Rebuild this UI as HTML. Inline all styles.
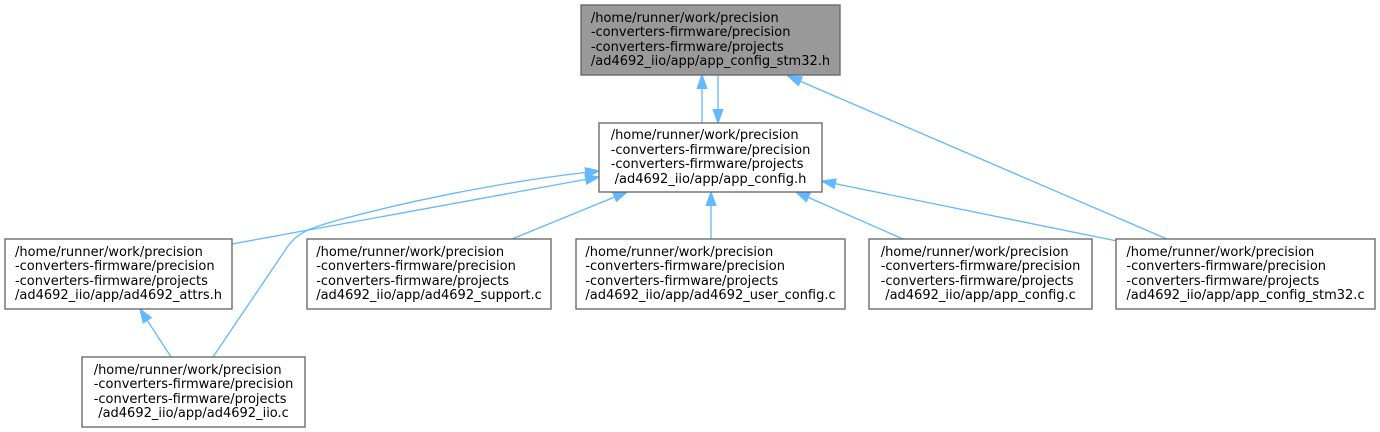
<!DOCTYPE html>
<html>
<head>
<meta charset="utf-8">
<style>
  html, body { margin: 0; padding: 0; background: #ffffff; }
  body { width: 1380px; height: 432px; position: relative; overflow: hidden; }
  svg { position: absolute; left: 0; top: 0; }
  .t {
    position: absolute;
    text-align: center;
    font-family: "DejaVu Sans", "Liberation Sans", sans-serif;
    font-size: 13px;
    line-height: 14.6px;
    color: #000;
    white-space: nowrap;
  }
  .t > span { display: inline-block; text-align: left; }
  .t > span > div.c { text-align: center; }
</style>
</head>
<body>
<svg width="1380" height="432" viewBox="0 0 1380 432" xmlns="http://www.w3.org/2000/svg">
  <g fill="none" stroke="#63b8ff" stroke-width="1.33">
    <!-- E1 app_config.h -> stm32.h (up) -->
    <line x1="702" y1="123" x2="702" y2="88.3"/>
    <!-- E2 stm32.h -> app_config.h (down) -->
    <line x1="718" y1="75" x2="718" y2="109.7"/>
    <!-- E3 stm32.c -> stm32.h -->
    <line x1="1167" y1="239" x2="800.2" y2="81.25"/>
    <!-- E4 attrs.h -> app_config.h -->
    <line x1="232" y1="244" x2="585.9" y2="179.4"/>
    <!-- E5 iio.c -> app_config.h (curve) -->
    <path d="M213,357 L288,246 C297,233 310,228 335,221 C400,203 500,182 585.8,172.5"/>
    <!-- E6 support.c -> app_config.h -->
    <line x1="512" y1="239" x2="614.7" y2="197"/>
    <!-- E7 user_config.c -> app_config.h -->
    <line x1="711" y1="239" x2="711" y2="205.3"/>
    <!-- E8 app_config.c -> app_config.h -->
    <line x1="903" y1="239" x2="808.2" y2="197.4"/>
    <!-- E9 stm32.c -> app_config.h -->
    <line x1="1117" y1="241" x2="835" y2="183.65"/>
    <!-- E10 iio.c -> attrs.h -->
    <line x1="171" y1="357" x2="147.2" y2="320.2"/>
  </g>
  <g fill="#63b8ff" stroke="#63b8ff" stroke-width="1.33">
    <polygon points="702,75 697.3,88.3 706.7,88.3"/>
    <polygon points="718,123 713.3,109.7 722.7,109.7"/>
    <polygon points="788,76 798.4,85.5 802.1,77"/>
    <polygon points="599,177 585.1,174.8 586.7,184"/>
    <polygon points="599,171 585.3,167.9 586.3,177.1"/>
    <polygon points="627,192 612.9,192.7 616.5,201.3"/>
    <polygon points="711,192 706.3,205.3 715.7,205.3"/>
    <polygon points="796,192 806.3,201.6 810.1,193.1"/>
    <polygon points="822,181 834.1,188.2 836,179.1"/>
    <polygon points="140,309 143.3,322.7 151.1,317.7"/>
  </g>
  <g stroke="#666666" stroke-width="1.33">
    <rect x="581" y="5" width="259" height="70" fill="#999999"/>
    <rect x="599" y="123" width="223" height="69" fill="#ffffff"/>
    <rect x="5" y="239" width="227" height="70" fill="#ffffff"/>
    <rect x="307" y="239" width="244" height="70" fill="#ffffff"/>
    <rect x="576" y="239" width="269" height="70" fill="#ffffff"/>
    <rect x="869" y="239" width="223" height="70" fill="#ffffff"/>
    <rect x="1116" y="239" width="259" height="70" fill="#ffffff"/>
    <rect x="82" y="357" width="223" height="70" fill="#ffffff"/>
  </g>
</svg>

<div class="t" style="left:581px; top:11.7px; width:259px;"><span>
  <div>/home/runner/work/precision</div>
  <div>-converters-firmware/precision</div>
  <div>-converters-firmware/projects</div>
  <div class="c">/ad4692_iio/app/app_config_stm32.h</div>
</span></div>

<div class="t" style="left:599px; top:129.2px; width:223px;"><span>
  <div>/home/runner/work/precision</div>
  <div>-converters-firmware/precision</div>
  <div>-converters-firmware/projects</div>
  <div class="c">/ad4692_iio/app/app_config.h</div>
</span></div>

<div class="t" style="left:5px; top:245.7px; width:227px;"><span>
  <div>/home/runner/work/precision</div>
  <div>-converters-firmware/precision</div>
  <div>-converters-firmware/projects</div>
  <div class="c">/ad4692_iio/app/ad4692_attrs.h</div>
</span></div>

<div class="t" style="left:307px; top:245.7px; width:244px;"><span>
  <div>/home/runner/work/precision</div>
  <div>-converters-firmware/precision</div>
  <div>-converters-firmware/projects</div>
  <div class="c">/ad4692_iio/app/ad4692_support.c</div>
</span></div>

<div class="t" style="left:576px; top:245.7px; width:269px;"><span>
  <div>/home/runner/work/precision</div>
  <div>-converters-firmware/precision</div>
  <div>-converters-firmware/projects</div>
  <div class="c">/ad4692_iio/app/ad4692_user_config.c</div>
</span></div>

<div class="t" style="left:869px; top:245.7px; width:223px;"><span>
  <div>/home/runner/work/precision</div>
  <div>-converters-firmware/precision</div>
  <div>-converters-firmware/projects</div>
  <div class="c">/ad4692_iio/app/app_config.c</div>
</span></div>

<div class="t" style="left:1116px; top:245.7px; width:259px;"><span>
  <div>/home/runner/work/precision</div>
  <div>-converters-firmware/precision</div>
  <div>-converters-firmware/projects</div>
  <div class="c">/ad4692_iio/app/app_config_stm32.c</div>
</span></div>

<div class="t" style="left:82px; top:363.7px; width:223px;"><span>
  <div>/home/runner/work/precision</div>
  <div>-converters-firmware/precision</div>
  <div>-converters-firmware/projects</div>
  <div class="c">/ad4692_iio/app/ad4692_iio.c</div>
</span></div>
</body>
</html>
